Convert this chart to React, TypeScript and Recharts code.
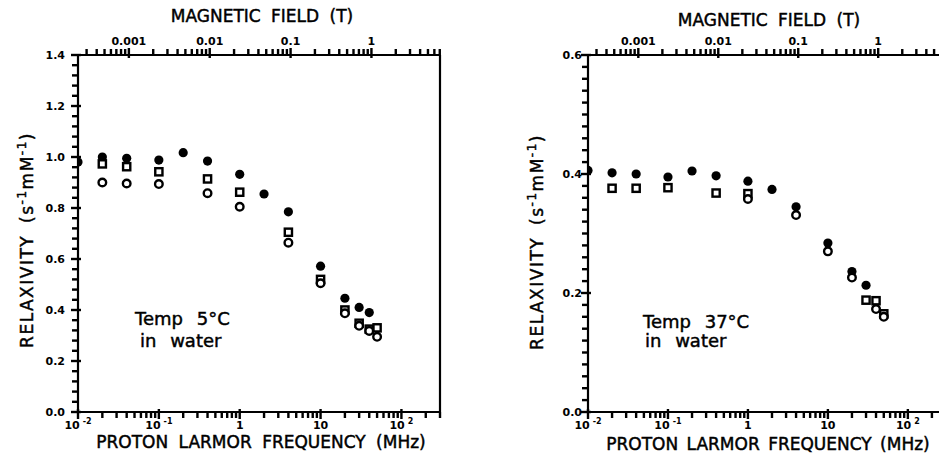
import React from 'react';
import { ScatterChart, Scatter, XAxis, YAxis } from 'recharts';

// proton gyromagnetic ratio, MHz per tesla (top axis conversion)
const GAMMA = 42.577;

// ---- 5 °C panel ----
const freq5Filled = [0.01, 0.02, 0.04, 0.1, 0.2, 0.4, 1, 2, 4, 10, 20, 30, 40];
const relax5Filled = [0.98, 1.0, 0.995, 0.988, 1.017, 0.984, 0.932, 0.855, 0.785, 0.572, 0.446, 0.41, 0.39];
const freq5Square = [0.02, 0.04, 0.1, 0.4, 1, 4, 10, 20, 30, 40, 50];
const relax5Square = [0.973, 0.962, 0.942, 0.914, 0.862, 0.705, 0.52, 0.4, 0.348, 0.325, 0.33];
const freq5Open = [0.02, 0.04, 0.1, 0.4, 1, 4, 10, 20, 30, 40, 50];
const relax5Open = [0.9, 0.896, 0.894, 0.858, 0.805, 0.664, 0.505, 0.387, 0.338, 0.318, 0.295];

// ---- 37 °C panel ----
const freq37Filled = [0.01, 0.02, 0.04, 0.1, 0.2, 0.4, 1, 2, 4, 10, 20, 30, 50];
const relax37Filled = [0.406, 0.402, 0.4, 0.395, 0.405, 0.397, 0.388, 0.374, 0.345, 0.284, 0.236, 0.213, 0.162];
const freq37Square = [0.02, 0.04, 0.1, 0.4, 1, 30, 40, 50];
const relax37Square = [0.376, 0.376, 0.377, 0.368, 0.367, 0.188, 0.187, 0.165];
const freq37Open = [1, 4, 10, 20, 40, 50];
const relax37Open = [0.358, 0.331, 0.27, 0.226, 0.173, 0.16];

// ---- axes ----
const FREQ_DOMAIN = [0.01, 300];
const bottomMajors = [0.01, 0.1, 1, 10, 100];
const bottomLabels = [['10', '-2'], ['10', '-1'], ['1', ''], ['10', ''], ['10', '2']];
const teslaMajors = [0.001, 0.01, 0.1, 1];
const teslaLabels = ['0.001', '0.01', '0.1', '1'];

function logTicks(lo: number, hi: number) {
    const out: number[] = [];
    for (let e = Math.floor(Math.log10(lo)); e <= Math.ceil(Math.log10(hi)); e++) {
        for (let m = 1; m <= 9; m++) {
            const v = Number((m * Math.pow(10, e)).toPrecision(6));
            if (v >= lo * 0.999 && v <= hi * 1.001) out.push(v);
        }
    }
    return out;
}

function linTicks(max: number, step: number) {
    const out: number[] = [];
    for (let i = 0; i * step <= max + 1e-9; i++) out.push(Math.round(i * step * 1000) / 1000);
    return out;
}

const bottomTicks = logTicks(FREQ_DOMAIN[0], FREQ_DOMAIN[1]);
const teslaTicks = logTicks(FREQ_DOMAIN[0] / GAMMA, FREQ_DOMAIN[1] / GAMMA);
const topTicks = teslaTicks.map(t => t * GAMMA);

const zip = (f: number[], v: number[]) => f.map((x, i) => ({ f: x, v: v[i] }));

const FONT = '"DejaVu Sans", "Liberation Sans", sans-serif';
const TW = 2.4; // tick mark thickness

// custom tick props: x/y sit on the axis line (tickSize = tickMargin = 0)
function BottomTick(props: any) {
    const { x, y, payload } = props;
    const idx = bottomMajors.indexOf(payload.value);
    const major = idx >= 0;
    return (
        <g>
            <rect x={x - TW / 2} y={major ? y - 3 : y} width={TW} height={major ? 10 : 6} fill="#000" />
            {major && (
                <text x={x} y={y + 17} textAnchor="middle" fontFamily={FONT} fontWeight="bold" fontSize={11} fill="#000">
                    {bottomLabels[idx][0]}
                    {bottomLabels[idx][1] && (
                        <tspan dx={3} dy={-5} fontSize={8}>{bottomLabels[idx][1]}</tspan>
                    )}
                </text>
            )}
        </g>
    );
}

function TopTick(props: any) {
    const { x, y, payload } = props;
    const i = topTicks.indexOf(payload.value);
    const tesla = i >= 0 ? teslaTicks[i] : 0;
    const idx = teslaMajors.indexOf(tesla);
    const major = idx >= 0;
    return (
        <g>
            <rect x={x - TW / 2} y={y - (major ? 7 : 6)} width={TW} height={major ? 10 : 6} fill="#000" />
            {major && (
                <text x={x} y={y - 10} textAnchor="middle" fontFamily={FONT} fontWeight="bold" fontSize={11} fill="#000">
                    {teslaLabels[idx]}
                </text>
            )}
        </g>
    );
}

function makeYTick(step: number, gap: number) {
    return (props: any) => {
        const { x, y, payload } = props;
        const v = payload.value;
        const major = Math.abs(v / step - Math.round(v / step)) < 1e-6;
        return (
            <g>
                <rect x={x - (major ? 7 : 6)} y={y - TW / 2} width={major ? 10 : 6} height={TW} fill="#000" />
                {major && (
                    <text x={x - gap} y={y + 4} textAnchor="end" fontFamily={FONT} fontWeight="bold" fontSize={11} fill="#000">
                        {v.toFixed(1)}
                    </text>
                )}
            </g>
        );
    };
}

function FilledDot(props: any) {
    return <circle cx={props.cx} cy={props.cy} r={4.6} fill="#000" />;
}

function OpenDot(props: any) {
    return <circle cx={props.cx} cy={props.cy} r={3.8} fill="#fff" stroke="#000" strokeWidth={2.4} />;
}

function OpenSquare(props: any) {
    return <rect x={props.cx - 3.6} y={props.cy - 3.6} width={7.2} height={7.2} fill="#fff" stroke="#000" strokeWidth={2.4} />;
}

const axisStroke = { stroke: '#000', strokeWidth: 2.2 };

type PanelProps = {
    width: number;
    margin: { top: number; right: number; bottom: number; left: number };
    yMax: number;
    yStep: number;
    yMinor: number;
    labelGap: number;
    rightFrame: boolean;
    filled: { f: number; v: number }[];
    squares: { f: number; v: number }[];
    open: { f: number; v: number }[];
};

// axes get a 1px band (a 0px axis is not drawn), margins are reduced by that
function Panel({ width, margin, yMax, yStep, yMinor, labelGap, rightFrame, filled, squares, open }: PanelProps) {
    return (
        <ScatterChart width={width} height={456} margin={margin}>
            <XAxis
                xAxisId="bottom"
                dataKey="f"
                type="number"
                scale="log"
                domain={FREQ_DOMAIN}
                allowDataOverflow
                ticks={bottomTicks}
                interval={0}
                height={1}
                tickSize={0}
                tickMargin={0}
                tickLine={false}
                tick={(p: any) => <BottomTick {...p} />}
                axisLine={axisStroke}
            />
            <XAxis
                xAxisId="top"
                orientation="top"
                dataKey="f"
                type="number"
                scale="log"
                domain={FREQ_DOMAIN}
                allowDataOverflow
                ticks={topTicks}
                interval={0}
                height={1}
                tickSize={0}
                tickMargin={0}
                tickLine={false}
                tick={(p: any) => <TopTick {...p} />}
                axisLine={{ stroke: '#000', strokeWidth: 1.8 }}
            />
            <YAxis
                yAxisId="left"
                dataKey="v"
                type="number"
                domain={[0, yMax]}
                allowDataOverflow
                ticks={linTicks(yMax, yMinor)}
                interval={0}
                width={1}
                tickSize={0}
                tickMargin={0}
                tickLine={false}
                tick={makeYTick(yStep, labelGap)}
                axisLine={axisStroke}
            />
            {rightFrame && (
                <YAxis
                    yAxisId="right"
                    orientation="right"
                    dataKey="v"
                    type="number"
                    domain={[0, yMax]}
                    allowDataOverflow
                    width={1}
                    tick={false}
                    tickLine={false}
                    axisLine={axisStroke}
                />
            )}
            <Scatter data={filled} xAxisId="bottom" yAxisId="left" shape={(p: any) => <FilledDot {...p} />} isAnimationActive={false} />
            <Scatter data={squares} xAxisId="bottom" yAxisId="left" shape={(p: any) => <OpenSquare {...p} />} isAnimationActive={false} />
            <Scatter data={open} xAxisId="bottom" yAxisId="left" shape={(p: any) => <OpenDot {...p} />} isAnimationActive={false} />
            {rightFrame ? (
                <Scatter data={filled} xAxisId="top" yAxisId="right" shape={() => <g />} isAnimationActive={false} />
            ) : (
                <Scatter data={filled} xAxisId="top" yAxisId="left" shape={() => <g />} isAnimationActive={false} />
            )}
        </ScatterChart>
    );
}

function Sup({ children }: { children: React.ReactNode }) {
    return <tspan dy={-7} fontSize={12}>{children}</tspan>;
}

function Titles() {
    const t = { fontFamily: FONT, fill: '#000', fontSize: 17, wordSpacing: 5, stroke: '#000', strokeWidth: 0.45 } as const;
    const yLabel = (x: number, y: number) => (
        <text x={x} y={y} transform={`rotate(-90 ${x} ${y})`} textAnchor="middle" {...t} fontSize={17} letterSpacing={1.5}>
            RELAXIVITY{'  '}(s<Sup>-1</Sup><tspan dy={7}>mM</tspan><Sup>-1</Sup><tspan dy={7}>)</tspan>
        </text>
    );
    return (
        <svg width={939} height={456} style={{ position: 'absolute', left: 0, top: 0, pointerEvents: 'none' }}>
            <text x={262} y={22} textAnchor="middle" {...t}>MAGNETIC FIELD (T)</text>
            <text x={769} y={26} textAnchor="middle" {...t}>MAGNETIC FIELD (T)</text>
            <text x={261} y={448} textAnchor="middle" {...t}>PROTON LARMOR FREQUENCY (MHz)</text>
            <text x={768} y={450} textAnchor="middle" {...t} wordSpacing={3}>PROTON LARMOR FREQUENCY (MHz)</text>
            {yLabel(33, 240)}
            {yLabel(543, 242)}
            <text x={135} y={325} {...t} fontSize={18} wordSpacing={8}>Temp 5°C</text>
            <text x={140} y={347} {...t} fontSize={18} wordSpacing={8}>in water</text>
            <text x={643} y={328} {...t} fontSize={18} wordSpacing={8}>Temp 37°C</text>
            <text x={645} y={347} {...t} fontSize={18} wordSpacing={8}>in water</text>
        </svg>
    );
}

export default function App() {
    return (
        <div style={{ position: 'absolute', left: 0, top: 0, width: 939, height: 456, overflow: 'hidden', background: '#fff' }}>
            <div style={{ position: 'absolute', left: 0, top: 0 }}>
                <Panel
                    width={470}
                    margin={{ top: 54, right: 29, bottom: 43, left: 77 }}
                    yMax={1.4}
                    yStep={0.2}
                    yMinor={0.04}
                    labelGap={13}
                    rightFrame
                    filled={zip(freq5Filled, relax5Filled)}
                    squares={zip(freq5Square, relax5Square)}
                    open={zip(freq5Open, relax5Open)}
                />
            </div>
            <div style={{ position: 'absolute', left: 470, top: 0 }}>
                <Panel
                    width={490}
                    margin={{ top: 54, right: 14, bottom: 43, left: 117 }}
                    yMax={0.6}
                    yStep={0.2}
                    yMinor={0.02}
                    labelGap={6}
                    rightFrame={false}
                    filled={zip(freq37Filled, relax37Filled)}
                    squares={zip(freq37Square, relax37Square)}
                    open={zip(freq37Open, relax37Open)}
                />
            </div>
            <Titles />
        </div>
    );
}
